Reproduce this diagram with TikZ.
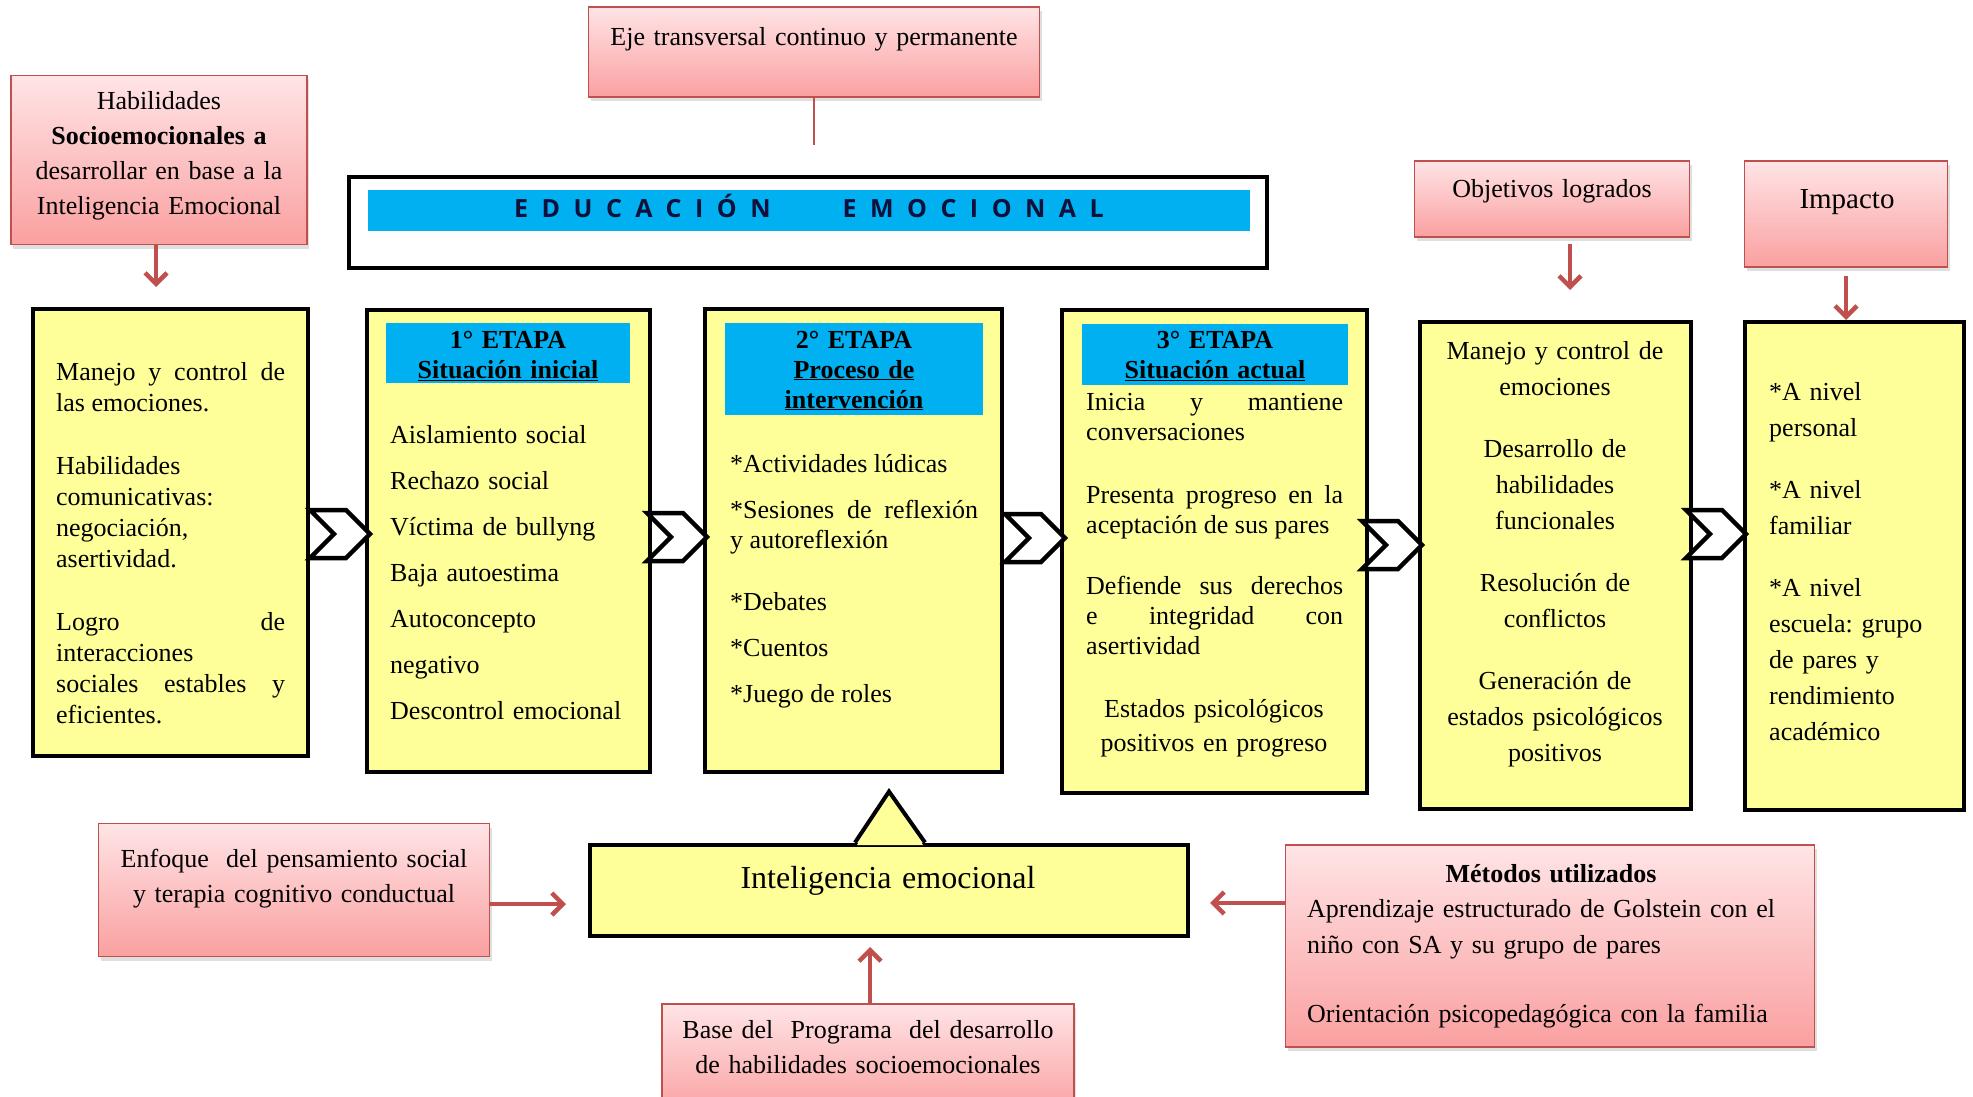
\documentclass[tikz,border=0pt]{standalone}
\usepackage{fontspec}
\setmainfont{Liberation Serif}
\newfontfamily\edufont[LetterSpace=54]{Open Sans}
\usetikzlibrary{shapes.symbols,shadows,arrows.meta}
\definecolor{boxyellow}{HTML}{FFFF99}
\definecolor{barblue}{HTML}{00B0F0}
\definecolor{pinktop}{HTML}{FFE4E6}
\definecolor{pinkbot}{HTML}{FAA0A0}
\definecolor{pinkline}{HTML}{C0504D}
\definecolor{edutext}{HTML}{10103A}
\hyphenpenalty=10000
\exhyphenpenalty=10000
\frenchspacing

\begin{document}
\begin{tikzpicture}[x=1pt, y=-1pt,
    ybox/.style={draw, line width=4pt, fill=boxyellow, inner sep=0pt},
    pbox/.style={draw=pinkline, line width=1.5pt, top color=pinktop, bottom color=pinkbot,
        inner sep=0pt, drop shadow={shadow xshift=2pt, shadow yshift=-4pt, opacity=0.25}},
    head/.style={fill=barblue, inner sep=0pt},
    htxt/.style={inner sep=0pt, anchor=base, align=center, text width=250pt, font=\fontsize{26}{30}\selectfont\bfseries},
    ltxt/.style={inner sep=0pt, anchor=base west, align=justify, font=\fontsize{26}{30}\selectfont},
    ctxt/.style={inner sep=0pt, anchor=base, align=center, font=\fontsize{26}{35}\selectfont},
    chev/.style={signal, signal from=west, signal to=east, draw, line width=4.5pt, fill=white,
        minimum width=60pt, minimum height=48pt, inner sep=0pt},
    redarrow/.style={pinkline, line width=4.5pt, -{Straight Barb[length=11pt, width=22pt]}},
]
\useasboundingbox (0,0) rectangle (1973,1097);
% ---------------- Top row ----------------
\node[pbox, minimum width=296pt, minimum height=169pt] (hab) at (159,160) {};
\node[ctxt, text width=290pt] (habtxt) at (159,110)
  {Habilidades\\ \textbf{Socioemocionales a}\\ desarrollar en base a la\\ Inteligencia Emocional};
\node[pbox, minimum width=451pt, minimum height=90pt] (eje) at (814,52) {};
\node[ctxt, text width=440pt] (ejetxt) at (814,46) {Eje transversal continuo y permanente};
\node[pbox, minimum width=275pt, minimum height=76pt] (obj) at (1552,199) {};
\node[ctxt, text width=270pt] (objtxt) at (1552,197) {Objetivos logrados};
\node[pbox, minimum width=203pt, minimum height=106pt] (imp) at (1846,214) {};
\node[ctxt, text width=200pt, font=\fontsize{29}{35}\selectfont] (imptxt) at (1847,208) {Impacto};
\node[ybox, fill=white, minimum width=918pt, minimum height=91pt] (edu) at (808,222) {};
\node[fill=barblue, minimum width=882pt, minimum height=41pt, inner sep=0pt, text=edutext,
  text height=15pt, text depth=0pt,
  font=\edufont\bfseries\fontsize{25}{30}\selectfont] (edubar) at (809,210) {EDUCACIÓN\hspace{72pt}EMOCIONAL};
% ---------------- Stages ----------------
\node[ybox, minimum width=275pt, minimum height=447pt] (b1) at (170,532) {};
\node[ybox, minimum width=283pt, minimum height=462pt] (b2) at (508,541) {};
\node[ybox, minimum width=297pt, minimum height=463pt] (b3) at (853,540) {};
\node[ybox, minimum width=305pt, minimum height=483pt] (b4) at (1214,551) {};
\node[ybox, minimum width=271pt, minimum height=487pt] (b5) at (1555,565) {};
\node[ybox, minimum width=219pt, minimum height=488pt] (b6) at (1854,566) {};
\node[head, minimum width=244pt, minimum height=60pt] (h1) at (508,353) {};
\node[head, minimum width=258pt, minimum height=92pt] (h2) at (854,369) {};
\node[head, minimum width=266pt, minimum height=61pt] (h3) at (1215,354) {};
\node[htxt] (h1txt) at (508,348) {1° ETAPA\\ \underline{Situación inicial}};
\node[htxt] (h2txt) at (854,348) {2° ETAPA\\ \underline{Proceso de}\\ \underline{intervención}};
\node[htxt] (h3txt) at (1215,348) {3° ETAPA\\ \underline{Situación actual}};
\node[ltxt, text width=229pt, font=\fontsize{26}{31}\selectfont] (t1) at (56,380)
  {Manejo y control de\linebreak las emociones.\\[32pt]
   Habilidades\\ comunicativas:\\ negociación,\\ asertividad.\\[32pt]
   Logro de\linebreak interacciones\\ sociales estables y\linebreak eficientes.};
\node[ltxt, align=left, text width=250pt, font=\fontsize{26}{46}\selectfont] (t2) at (390,443)
  {Aislamiento social\\ Rechazo social\\ Víctima de bullyng\\ Baja autoestima\\ Autoconcepto\\ negativo\\ Descontrol emocional};
\node[ltxt, text width=248pt] (t3) at (730,472)
  {*Actividades lúdicas\\[16pt] *Sesiones de reflexión\linebreak y autoreflexión\\[32pt]
   *Debates\\[16pt] *Cuentos\\[16pt] *Juego de roles};
\node[ltxt, text width=257pt] (t4) at (1086,410)
  {Inicia y mantiene\linebreak conversaciones\\[33pt] Presenta progreso en la\linebreak aceptación de sus pares\\[31pt]
   Defiende sus derechos\linebreak e integridad con\linebreak asertividad};
\node[ctxt, font=\fontsize{26}{34}\selectfont, text width=290pt] (t4b) at (1214,717)
  {Estados psicológicos\\ positivos en progreso};
\node[ctxt, font=\fontsize{26}{36}\selectfont, text width=260pt] (t5) at (1555,359)
  {Manejo y control de\\ emociones\\[26pt] Desarrollo de\\ habilidades\\ funcionales\\[26pt]
   Resolución de\\ conflictos\\[26pt] Generación de\\ estados psicológicos\\ positivos};
\node[ltxt, align=left, font=\fontsize{26}{36}\selectfont, text width=200pt] (t6) at (1769,400)
  {*A nivel\\ personal\\[26pt] *A nivel\\ familiar\\[26pt] *A nivel\\ escuela: grupo\\ de pares y\\ rendimiento\\ académico};
% chevrons between the stages
\node[chev] (c1) at (340,534) {};
\node[chev] (c2) at (677,537) {};
\node[chev] (c3) at (1035,538) {};
\node[chev] (c4) at (1392,545) {};
\node[chev] (c5) at (1716,534) {};
% ---------------- Bottom row ----------------
\node[ybox, minimum width=598pt, minimum height=91pt] (ie) at (889,890) {};
\fill[boxyellow] ([xshift=-32pt,yshift=-2.5pt]ie.north) -- ([yshift=51pt]ie.north) -- ([xshift=34pt,yshift=-2.5pt]ie.north) -- cycle;
\draw[line width=4pt] ([xshift=-34pt]ie.north) -- ([yshift=51pt]ie.north) -- ([xshift=36pt]ie.north);
\node[ctxt, font=\fontsize{32}{38}\selectfont, text width=500pt] (ietxt) at (888,888) {Inteligencia emocional};
\node[pbox, minimum width=391pt, minimum height=133pt] (enf) at (294,890) {};
\node[ctxt, text width=385pt] (enftxt) at (294,867) {Enfoque\ \ del pensamiento social\\ y terapia cognitivo conductual};
\node[pbox, minimum width=412pt, minimum height=110pt] (base) at (868,1059) {};
\node[ctxt, text width=405pt] (basetxt) at (868,1038) {Base del\ \ Programa\ \ del desarrollo\\ de habilidades socioemocionales};
\node[pbox, minimum width=529pt, minimum height=202pt] (met) at (1550,946) {};
\node[ctxt, text width=400pt] (mettxt) at (1551,882) {\textbf{Métodos utilizados}};
\node[ltxt, align=left, font=\fontsize{26}{36}\selectfont, text width=500pt] (metlist) at (1307,917)
  {Aprendizaje estructurado de Golstein con el\\ niño con SA y su grupo de pares\\[33pt] Orientación psicopedagógica con la familia};
% ---------------- Connectors ----------------
\coordinate (ejeend) at (814,145);
\coordinate (habend) at (156,287);
\coordinate (objend) at (1570,290);
\coordinate (enfend) at (566,904);
\coordinate (metend) at (1210,903);
\coordinate (baseend) at (870,947);
\draw[pinkline, line width=2pt] (eje.south) -- (ejeend);
\draw[redarrow] (hab.south -| habend) -- (habend);
\draw[redarrow] ([yshift=-6pt]obj.south -| objend) -- (objend);
\draw[redarrow] ([yshift=-8pt]imp.south) -- (imp.south |- b6.north);
\draw[redarrow] (enf.east |- enfend) -- (enfend);
\draw[redarrow] (met.west |- metend) -- (metend);
\draw[redarrow] (base.north -| baseend) -- (baseend);
\end{tikzpicture}
\end{document}
